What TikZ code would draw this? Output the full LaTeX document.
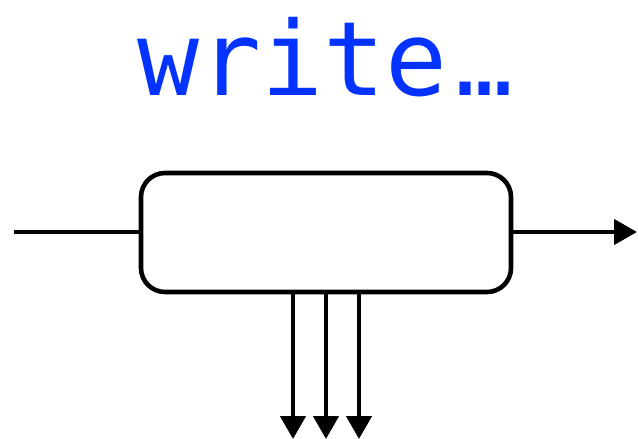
\documentclass[tikz,border=0pt]{standalone}
\usepackage{fontspec}
\newfontfamily\monofont{DejaVu Sans Mono}
\usetikzlibrary{arrows.meta}
\definecolor{wblue}{RGB}{4,51,255}
\begin{document}
\begin{tikzpicture}[x=1pt,y=-1pt,
  line/.style={line width=4.6pt},
  arr/.style={line width=4.6pt,-{Triangle[length=23pt,width=25pt]}},
  boxs/.style={draw,line width=4.6pt,rounded corners=24pt,minimum width=370pt,minimum height=119pt,inner sep=0pt}]
\useasboundingbox (0,0) rectangle (638,439);
\node[anchor=base west,text=wblue,font=\monofont\fontsize{103}{103}\selectfont,inner sep=0pt] (title) at (137,95) {write{\fontsize{90}{90}\selectfont\kern-0.1em.\kern-0.39em.\kern-0.39em.}};
\node[boxs] (box) at (326,232.5) {};
\coordinate (in) at (14,232);
\coordinate (out) at (637,232);
\coordinate (d1) at (293,439);
\coordinate (d2) at (326,439);
\coordinate (d3) at (359,439);
\draw[line] (in) -- (box.west |- in);
\draw[arr] (box.east |- out) -- (out);
\draw[arr] (box.south -| d1) -- (d1);
\draw[arr] (box.south -| d2) -- (d2);
\draw[arr] (box.south -| d3) -- (d3);
\end{tikzpicture}
\end{document}
